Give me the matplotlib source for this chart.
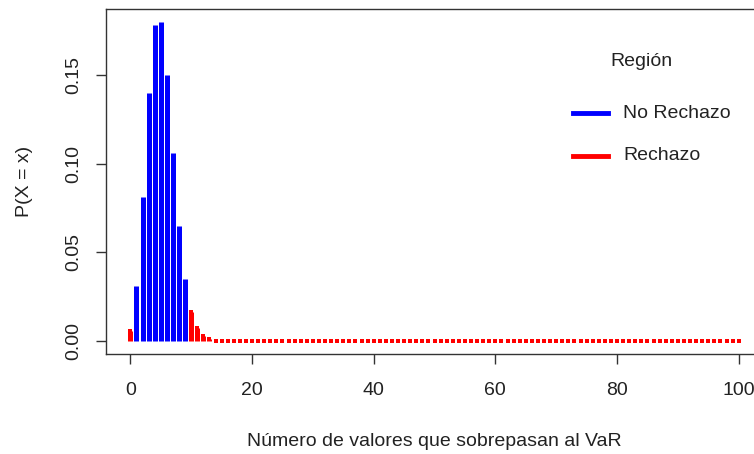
import matplotlib
matplotlib.use("Agg")
import matplotlib.pyplot as plt
from matplotlib.lines import Line2D

plt.rcParams['font.family'] = ['Liberation Sans', 'DejaVu Sans']

# number of exceedances (0..100) and probabilities
x_vals = list(range(0, 101))
p_head = [0.0059, 0.0312, 0.0812, 0.1396, 0.1781, 0.1800, 0.1500, 0.1060,
          0.0649, 0.0349, 0.0167, 0.0072, 0.0028, 0.0010, 0.0003, 0.0001]
p_tail = [0.0] * (len(x_vals) - len(p_head))
probs = p_head + p_tail
# rejection region: 0 and 10 or more
no_rechazo = [1, 2, 3, 4, 5, 6, 7, 8, 9]
labels = ["No Rechazo", "Rechazo"]
colors = ["#0000FF", "#FF0000"]

fs = 14

fig = plt.figure(figsize=(7.54, 4.54), dpi=100)
ax = fig.add_axes([106 / 754, 1 - 354 / 454, (763 - 106) / 754, (354 - 9) / 454])

xb = [x for x in x_vals if x in no_rechazo]
yb = [probs[x] for x in xb]
xr = [x for x in x_vals if x not in no_rechazo]
yr = [probs[x] for x in xr]
ax.vlines(xb, 0, yb, colors=colors[0], linewidth=3.6, capstyle="butt")
ax.vlines(xr, 0, yr, colors=colors[1], linewidth=3.6, capstyle="butt")
# zero-height lines still show as small dashes
ax.plot(xr, yr, linestyle="none", marker="s", markersize=3.2, color=colors[1],
        markeredgewidth=0)

ax.set_xlim(-4, 104)
ax.set_ylim(-0.0072, 0.1872)
ax.set_xticks([0, 20, 40, 60, 80, 100])
ax.set_yticks([0.00, 0.05, 0.10, 0.15])
ax.set_yticklabels(["0.00", "0.05", "0.10", "0.15"], rotation=90, va="center")
ax.tick_params(labelsize=fs, length=7, width=1, colors="#333333", labelcolor="#222222")
ax.tick_params(axis="y", pad=10)
ax.tick_params(axis="x", pad=13)
for s in ax.spines.values():
    s.set_color("#333333")
    s.set_linewidth(1)

ax.set_xlabel("Número de valores que sobrepasan al VaR", fontsize=fs, labelpad=25,
              color="#222222")
ax.set_ylabel("P(X = x)", fontsize=fs, labelpad=23, color="#222222")

# legend drawn by hand, no frame
fig.text(641 / 754, 1 - 62 / 454, "Región", fontsize=fs, ha="center", va="center",
         color="#222222")
for i, (lab, col) in enumerate(zip(labels, colors)):
    yy = 1 - (113 + 43 * i) / 454
    fig.add_artist(Line2D([573 / 754, 608 / 754], [yy, yy], color=col, linewidth=3.5,
                          transform=fig.transFigure))
    fig.text(623 / 754, yy, lab, fontsize=fs, ha="left", va="center", color="#222222")

fig.savefig("out.png", dpi=100)
